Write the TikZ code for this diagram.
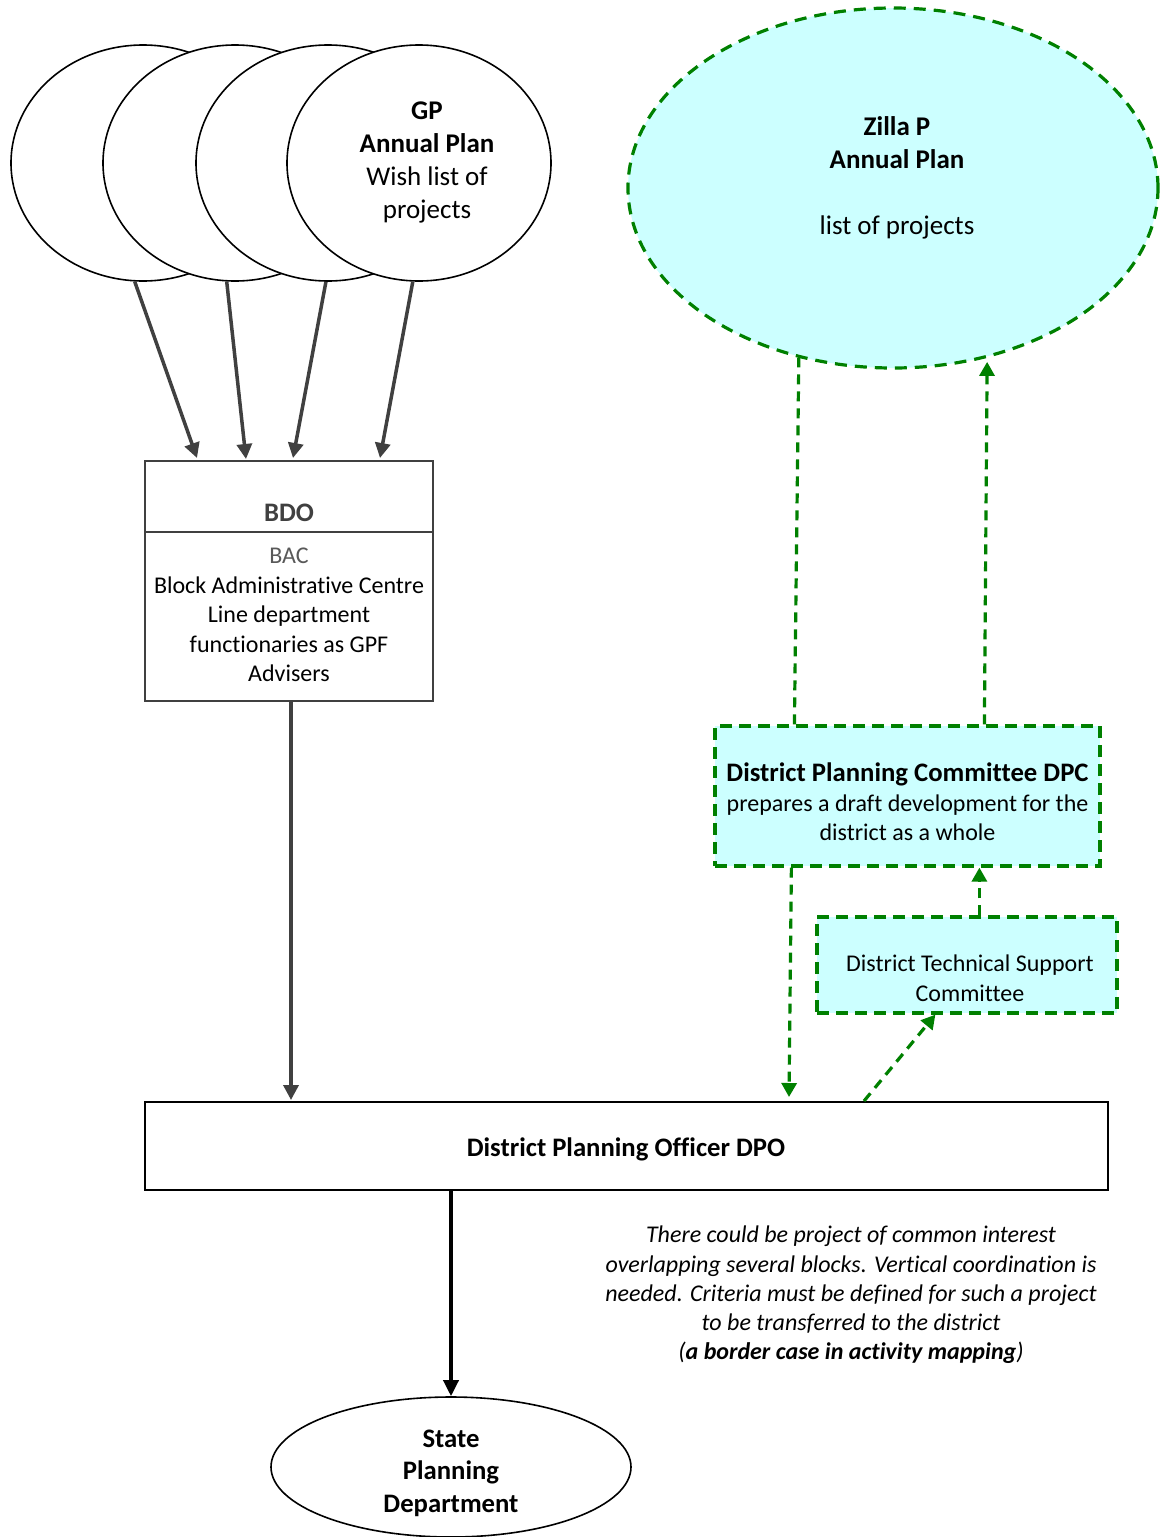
\documentclass[tikz,border=0pt]{standalone}
\usepackage{fontspec}
\setmainfont{Carlito}[Ligatures={NoCommon}]
\usetikzlibrary{shapes.geometric,arrows.meta,calc}
\definecolor{dgray}{HTML}{404040}
\definecolor{mgray}{HTML}{595959}
\definecolor{dgreen}{HTML}{008000}
\definecolor{lcyan}{HTML}{CCFFFF}
\newcommand{\bigb}[1]{{\fontsize{26.7}{29.5}\selectfont\bfseries #1}}
\begin{document}
\begin{tikzpicture}[x=1pt,y=-1pt,
  gp/.style={ellipse, draw=black, fill=white, line width=1.6pt, minimum width=264pt, minimum height=236pt, inner sep=0pt},
  etext/.style={align=center, font=\fontsize{27}{33}\selectfont},
  btext/.style={align=center, font=\fontsize{24}{29.5}\selectfont},
  garrow/.style={draw=dgray, line width=3.5pt, -{Triangle[length=15pt,width=15pt]}},
  barrow/.style={draw=black, line width=3.5pt, -{Triangle[length=16pt,width=15pt]}},
  gline/.style={draw=dgreen, line width=3.2pt, dash pattern=on 10pt off 7pt},
  gdash/.style={gline, -{Triangle[length=14pt,width=15pt]}},
  gbox/.style={draw=dgreen, fill=lcyan, line width=3.2pt, dash pattern=on 12pt off 7pt, inner sep=0pt},
  plainbox/.style={draw=black, fill=white, line width=2pt, inner sep=0pt}
]
\useasboundingbox (0,0) rectangle (1161,1537);

% GP ellipses
\node[gp] (e1) at (143,163) {};
\node[gp] (e2) at (235,163) {};
\node[gp] (e3) at (328,163) {};
\node[gp] (e4) at (419,163) {};
\node[etext] (gptext) at (427,162) {\textbf{GP}\\\textbf{Annual Plan}\\Wish list of\\projects};

% BDO box
\node[plainbox, draw=dgray, minimum width=288pt, minimum height=240pt] (bdo) at (289,581) {};
\draw[dgray, line width=2pt] ($(bdo.north west)+(0,72)$) coordinate (dl) -- ($(bdo.north east)+(0,72)$) coordinate (dr);
\node[btext, text=dgray] (bdohead) at (289,513) {\bigb{BDO}};
\node[btext] (bdobody) at (289,615) {\textcolor{mgray}{BAC}\\Block Administrative Centre\\Line department\\functionaries as GPF\\Advisers};

% arrows from GP ellipses
\draw[garrow] (e1.266) -- ($(bdo.north west)+(53,-2)$);
\draw[garrow] (e2.266) -- ($(bdo.north west)+(102,-1)$);
\draw[garrow] (e3.269) -- ($(bdo.north west)+(149,-2)$);
\draw[garrow] (e4.267) -- ($(bdo.north west)+(236,-2)$);

% Zilla ellipse
\node[ellipse, draw=dgreen, fill=lcyan, line width=3.2pt, dash pattern=on 12pt off 8pt, minimum width=530pt, minimum height=360pt, inner sep=0pt] (zilla) at (893,188) {};
\node[etext] (zillatext) at (897,178) {\textbf{Zilla P}\\\textbf{Annual Plan}\\[33pt]list of projects};

% DPC box
\node[gbox, minimum width=385pt, minimum height=140pt] (dpc) at (907.5,796) {};
\node[btext] (dpctext) at (907.5,802) {\bigb{District Planning Committee DPC}\\prepares a draft development for the\\district as a whole};

% DTSC box
\node[gbox, minimum width=300pt, minimum height=96pt] (dtsc) at (967,965) {};
\node[btext] (dtsctext) at (970,978) {District Technical Support\\Committee};

% DPO box
\node[plainbox, minimum width=963pt, minimum height=88pt] (dpo) at (626.5,1146) {};
\node[btext] (dpotext) at (626,1149) {\bigb{District Planning Officer DPO}};

% State ellipse
\node[ellipse, draw=black, fill=white, line width=1.6pt, minimum width=360pt, minimum height=140pt, inner sep=0pt] (state) at (451,1467) {};
\node[align=center, font=\fontsize{26.7}{32.5}\selectfont\bfseries] (statetext) at (451,1473) {State\\Planning\\Department};

% note
\node[btext, font=\fontsize{24}{29.2}\selectfont\itshape] (note) at (851,1295) {There could be project of common interest\\overlapping several blocks. Vertical coordination is\\needed. Criteria must be defined for such a project\\to be transferred to the district\\(\textbf{a border case in activity mapping})};

% black connectors
\draw[garrow] (bdo.south -| 291,0) -- ($(dpo.north -| 291,0)+(0,-1)$);
\draw[barrow] (dpo.south -| state.north) -- (state.north);

% green connectors
\draw[gline] ($(dpc.north west)+(81,0)$) -- (zilla.241);
\draw[gdash, shorten >=4pt] ($(dpc.north west)+(271,0)$) -- (zilla.299);
\draw[gdash] ($(dpc.south west)+(78,0)$) -- ($(dpo.north west)+(645,-4)$);
\draw[gdash] ($(dtsc.north west)+(164,0)$) -- ($(dpc.south west)+(266,0)$);
\draw[gdash] ($(dpo.north west)+(720,0)$) -- ($(dtsc.south west)+(120,0)$);
\end{tikzpicture}
\end{document}
